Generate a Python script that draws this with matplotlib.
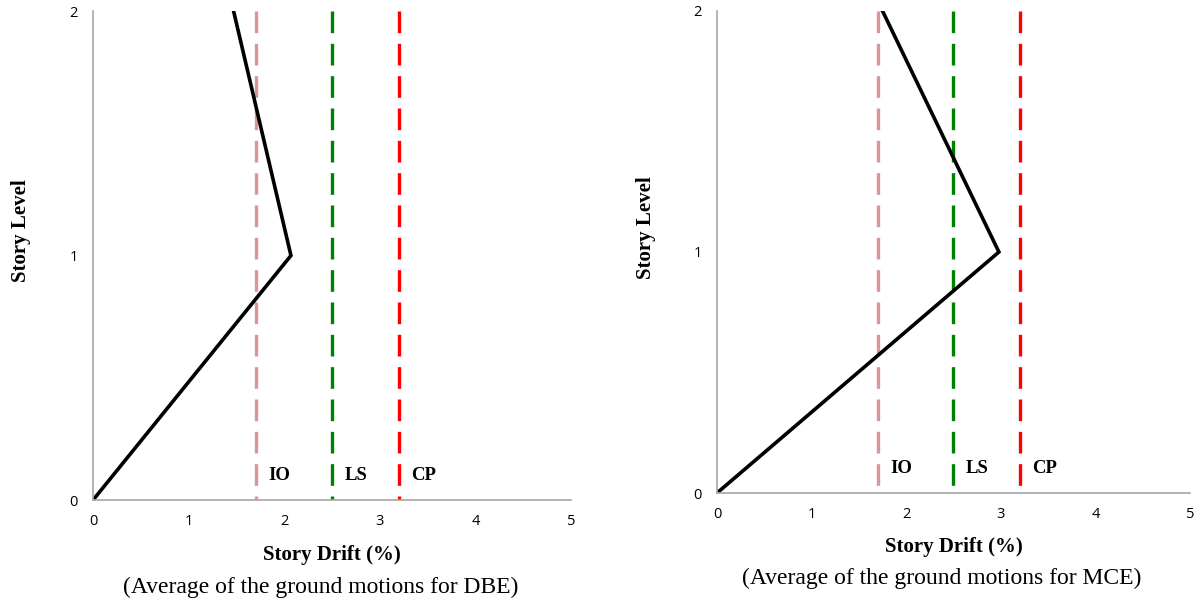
import matplotlib
matplotlib.use('Agg')
import matplotlib.pyplot as plt

# Story levels and average drifts (%)
levels = [0, 1, 2]
drift_dbe = [0, 2.07, 1.47]
drift_mce = [0, 2.98, 1.75]

# Performance limits
limit_names = ['IO', 'LS', 'CP']
limit_values = [1.7, 2.5, 3.2]
limit_colors = ['#DA9694', '#008000', '#FF0000']

captions = ['(Average of the ground motions for DBE)',
            '(Average of the ground motions for MCE)']

fig = plt.figure(figsize=(12.02, 6.01), dpi=100)
ax1 = fig.add_axes([0.0774, 0.168, 0.3977, 0.8136])
ax2 = fig.add_axes([0.5965, 0.1797, 0.3935, 0.802])

tick_font = 'Open Sans'
serif = 'Liberation Serif'

for ax, drift, cap in zip([ax1, ax2], [drift_dbe, drift_mce], captions):
    # limit lines drawn top-down so the dash pattern starts at the top
    for name, val, col in zip(limit_names, limit_values, limit_colors):
        ax.plot([val, val], [2, 0], color=col, lw=2.4, dashes=(6.5, 3.2))
        ax.text(val + 0.13, 0.1, name, fontsize=13.5, fontweight='bold',
                family=serif, ha='left', va='center')
    ax.plot(drift, levels, color='black', lw=2.6, solid_joinstyle='miter')
    ax.set_xlim(0, 5)
    ax.set_ylim(0, 2)
    ax.set_xticks([0, 1, 2, 3, 4, 5])
    ax.set_yticks([0, 1, 2])
    ax.tick_params(length=0, labelsize=10.5)
    ax.tick_params(axis='y', pad=11)
    ax.tick_params(axis='x', pad=10)
    for lab in ax.get_xticklabels() + ax.get_yticklabels():
        lab.set_family(tick_font)
    for s in ['top', 'right']:
        ax.spines[s].set_visible(False)
    for s in ['left', 'bottom']:
        ax.spines[s].set_color('#A6A6A6')
        ax.spines[s].set_linewidth(1.2)
    ax.set_xlabel('Story Drift (%)', fontsize=15, fontweight='bold',
                  family=serif)
    ax.xaxis.set_label_coords(0.5, -0.091)
    ax.set_ylabel('Story Level', fontsize=15, fontweight='bold',
                  family=serif)
    ax.yaxis.set_label_coords(-0.13, 0.551)
    ax.text(0.476, -0.178, cap, transform=ax.transAxes, fontsize=17,
            family=serif, ha='center', va='center')

plt.savefig('out.png', dpi=100)
